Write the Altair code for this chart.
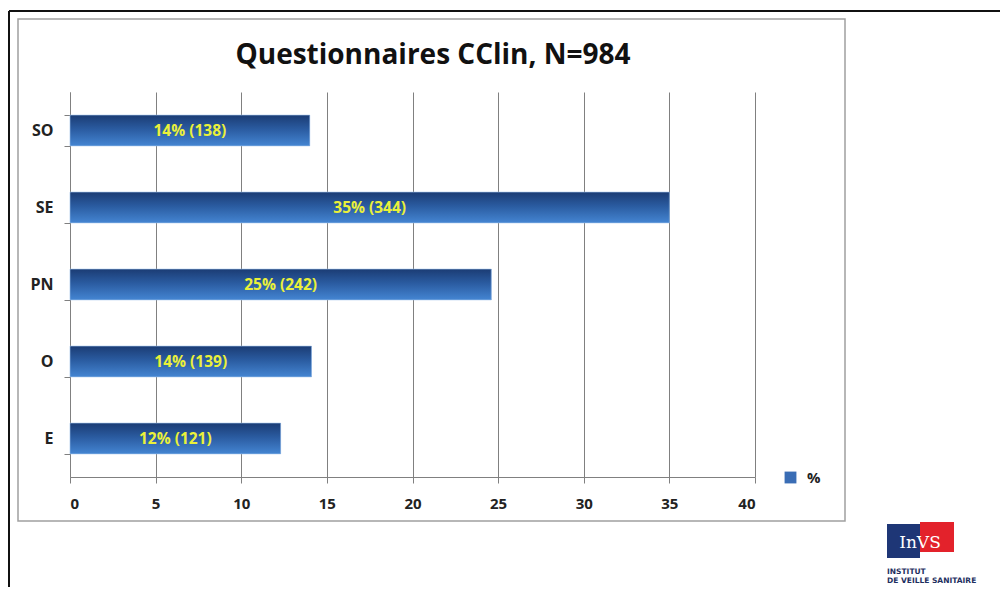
import altair as alt
import pandas as pd

categories = ["SO", "SE", "PN", "O", "E"]
percents = [14.0, 35.0, 24.6, 14.1, 12.3]
counts = [138, 344, 242, 139, 121]
labels = ["14% (138)", "35% (344)", "25% (242)", "14% (139)", "12% (121)"]
x_ticks = [0, 5, 10, 15, 20, 25, 30, 35, 40]
series_name = "%"
title_text = "Questionnaires CClin, N=984"

df = pd.DataFrame({
    "cat": categories,
    "pct": percents,
    "n": counts,
    "label": labels,
    "serie": [series_name] * len(categories),
})
one = pd.DataFrame({"a": [0]})

FONT = "Open Sans"
GRAY = "#808080"

x_enc = alt.X("pct:Q", scale=alt.Scale(domain=[0, 40], nice=False),
              axis=alt.Axis(values=x_ticks, title=None, grid=True, gridColor=GRAY,
                            domainColor=GRAY, tickColor=GRAY, tickSize=6,
                            labelFont=FONT, labelFontWeight="bold", labelFontSize=15,
                            labelColor="#222222", labelPadding=13))
y_enc = alt.Y("cat:N", sort=categories,
              scale=alt.Scale(paddingInner=0.6, paddingOuter=0.3),
              axis=alt.Axis(title=None, tickBand="extent", domainColor=GRAY,
                            tickColor=GRAY, tickSize=6, labelFont=FONT,
                            labelFontWeight="bold", labelFontSize=16,
                            labelColor="#222222", labelPadding=11))

base = alt.Chart(df)

# outer decorations
frame_top = alt.Chart(one).mark_rule(color="#111111", strokeWidth=2).encode(
    x=alt.value(-61), x2=alt.value(940), y=alt.value(-81))
frame_left = alt.Chart(one).mark_rule(color="#111111", strokeWidth=2).encode(
    x=alt.value(-61), y=alt.value(-81), y2=alt.value(510))
box = alt.Chart(one).mark_rect(fill="transparent", stroke="#a0a0a0", strokeWidth=1.5).encode(
    x=alt.value(-52), x2=alt.value(775), y=alt.value(-73), y2=alt.value(429))

legend_bars = base.mark_bar().encode(
    x=x_enc, y=y_enc,
    color=alt.Color("serie:N", scale=alt.Scale(range=["#3a6db5"]),
                    legend=alt.Legend(title=None, orient="none", legendX=713, legendY=378,
                                      symbolType="square", symbolSize=140,
                                      symbolStrokeWidth=0, labelOffset=9,
                                      labelFont=FONT, labelFontWeight="bold",
                                      labelFontSize=15, labelColor="#222222")),
)

grad = alt.Gradient(
    gradient="linear",
    stops=[
        alt.GradientStop(color="#1b3c74", offset=0),
        alt.GradientStop(color="#2a5ba0", offset=0.45),
        alt.GradientStop(color="#4485d2", offset=1),
    ],
    x1=0, x2=0, y1=0, y2=1,
)
bars = base.mark_bar(color=grad, stroke="#9cc0ea", strokeWidth=0.6).encode(x=x_enc, y=y_enc)

texts = base.transform_calculate(mid="datum.pct / 2").mark_text(
    font=FONT, fontWeight="bold", fontSize=15.5, color="#eaf03a", baseline="middle", align="center"
).encode(x=alt.X("mid:Q"), y=alt.Y("cat:N", sort=categories), text="label:N")

title = alt.Chart(one).mark_text(
    text=title_text, font=FONT, fontWeight="bold", fontSize=28, color="#111111",
    align="center", baseline="alphabetic"
).encode(x=alt.value(363), y=alt.value(-28))

# logo approximation
flag_blue = alt.Chart(one).mark_rect(color="#1e3676").encode(
    x=alt.value(817), x2=alt.value(850), y=alt.value(432), y2=alt.value(466))
flag_red = alt.Chart(one).mark_rect(color="#e3222b").encode(
    x=alt.value(850), x2=alt.value(884), y=alt.value(430), y2=alt.value(460))
logo_txt = alt.Chart(one).mark_text(
    text="InVS", font="DejaVu Serif", fontSize=17, color="white", align="center", baseline="alphabetic"
).encode(x=alt.value(850), y=alt.value(456))
inst1 = alt.Chart(one).mark_text(
    text="INSTITUT", font="DejaVu Sans", fontWeight="bold", fontSize=7.5, color="#1e2f60",
    align="left", baseline="alphabetic"
).encode(x=alt.value(817), y=alt.value(482))
inst2 = alt.Chart(one).mark_text(
    text="DE VEILLE SANITAIRE", font="DejaVu Sans", fontWeight="bold", fontSize=7.5, color="#1e2f60",
    align="left", baseline="alphabetic"
).encode(x=alt.value(817), y=alt.value(491))

chart = alt.layer(
    frame_top, frame_left, box, legend_bars, bars, texts, title,
    flag_blue, flag_red, logo_txt, inst1, inst2
).properties(
    width=685, height=385,
    autosize=alt.AutoSizeParams(type="none"),
    padding={"left": 62, "top": 84, "right": 245, "bottom": 110},
    background="white",
).configure_view(stroke=None)

chart.save("out.html", embed_options={"renderer": "svg", "actions": False})
